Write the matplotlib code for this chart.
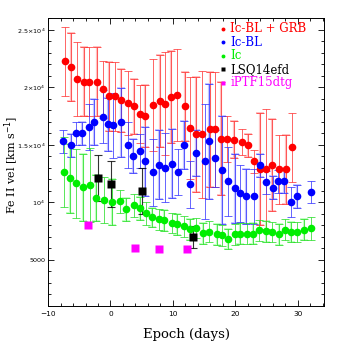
import numpy as np
import matplotlib
matplotlib.use("Agg")
import matplotlib.pyplot as plt
from matplotlib.ticker import FixedLocator, FixedFormatter, MultipleLocator

# Ic-BL + GRB
grb_epoch = [-7.3, -6.35, -5.4, -4.27, -3.47, -2.08, -1.23, -0.27, 0.8, 1.76, 2.83, 3.84, 4.75, 5.55,
             6.77, 7.95, 8.75, 9.7, 10.6, 11.9, 12.8, 13.7, 14.6, 15.9, 16.8, 17.65, 18.7, 19.7,
             21.07, 22.03, 22.93, 23.9, 24.85, 25.87, 27.0, 28.05, 29.07]
grb_vel = [22260, 21740, 20720, 20500, 20500, 20500, 19830, 19220, 19240, 18870, 18630, 18350, 17710, 17500,
           18480, 18810, 18600, 19190, 19320, 18360, 16450, 15910, 15910, 16360, 16360, 15540, 15540, 15460,
           15250, 14960, 13590, 12900, 12900, 13220, 12880, 12880, 14810]
grb_err = [3000, 2950, 3200, 3000, 3000, 3000, 2500, 3000, 3000, 2750, 2800, 2400, 2500, 2700,
           4000, 4000, 4500, 4000, 4000, 3000, 4450, 5000, 5500, 5000, 5000, 4900, 2000, 1600,
           1100, 1000, 1000, 4900, 5200, 4000, 3000, 3000, 3000]

# Ic-BL
bl_epoch = [-7.57, -6.4, -5.5, -4.64, -3.36, -2.56, -1.23, -0.43, 0.43, 1.76, 2.77, 3.57, 4.75, 5.6,
            6.75, 7.77, 8.8, 9.85, 10.85, 11.8, 12.8, 13.65, 15.17, 15.82, 16.78, 17.9, 18.83, 19.9,
            20.75, 21.68, 22.93, 23.95, 24.9, 26.08, 26.87, 27.85, 28.88, 29.87, 32.07]
bl_vel = [15330, 14980, 16000, 16000, 16520, 16980, 17450, 16810, 16700, 16980, 14980, 14030, 14460, 13590,
          12620, 13260, 13030, 13380, 12620, 14970, 11560, 14300, 13590, 15300, 13830, 12790, 11830, 11230,
          10780, 10550, 10550, 13240, 11740, 11290, 11830, 11830, 10060, 10550, 10900]
bl_err = [1000, 1000, 1000, 1000, 2000, 2000, 2300, 2300, 2800, 3000, 2000, 1500, 1500, 3000,
          2900, 3000, 3000, 3000, 2000, 2100, 2000, 2000, 5000, 5000, 2500, 4700, 3000, 3000,
          2500, 2400, 2400, 1000, 1000, 1000, 1000, 1000, 1300, 1000, 950]

# Ic
ic_epoch = [-7.47, -6.51, -5.49, -4.43, -3.31, -2.35, -1.0, 0.27, 1.6, 2.5, 3.79, 4.75, 5.7, 6.67,
            7.84, 8.64, 9.8, 10.72, 11.79, 12.8, 13.68, 14.85, 15.8, 17.0, 17.92, 18.83, 19.87, 20.8,
            21.92, 22.83, 23.79, 24.9, 25.87, 27.04, 27.89, 28.85, 29.81, 31.04, 32.05]
ic_vel = [12640, 12090, 11680, 11300, 11540, 10350, 10200, 10060, 10090, 9390, 9740, 9510, 9070, 8700,
          8520, 8460, 8210, 8090, 7930, 7650, 7770, 7300, 7450, 7220, 7130, 6810, 7220, 7280,
          7280, 7280, 7570, 7480, 7420, 7220, 7630, 7450, 7420, 7630, 7740]
ic_err = [3050, 3000, 3000, 2900, 3200, 2000, 2000, 2000, 1000, 1000, 1000, 1000, 1000, 850,
          900, 900, 900, 900, 900, 900, 900, 900, 900, 900, 900, 900, 900, 900,
          900, 900, 900, 900, 900, 900, 900, 850, 900, 900, 1000]

# LSQ14efd
lsq_epoch = [-1.97, 0.05, 5.12, 13.17]
lsq_vel = [12150, 11590, 10980, 6960]
lsq_err = [2000, 2000, 2000, 950]

# iPTF15dtg
ptf_epoch = [-3.68, 4.0, 7.84, 12.27]
ptf_vel = [8000, 6060, 5970, 5970]

ytick_vals = [5000, 10000, 15000, 20000, 25000]
ytick_text = ["5000", r"$10^4$", r"$1.5\!\times\!10^4$", r"$2\!\times\!10^4$", r"$2.5\!\times\!10^4$"]

fig = plt.figure(figsize=(3.43, 3.43), dpi=100)
ax = fig.add_axes([0.140, 0.108, 0.805, 0.840])


def draw_group(x, y, e, col, pale):
    for i in range(len(x)):
        if i % 2 == 1:
            ax.errorbar(x[i], y[i], yerr=e[i], fmt="none", ecolor=pale, elinewidth=1.6,
                        capsize=3, capthick=1.4, zorder=1)
        ax.errorbar(x[i], y[i], yerr=e[i], fmt="none", ecolor=col, elinewidth=0.7,
                    capsize=3, capthick=0.7, alpha=0.75, zorder=2)


draw_group(grb_epoch, grb_vel, grb_err, "#ff3030", "#ffc0c0")
draw_group(bl_epoch, bl_vel, bl_err, "#3030ff", "#c4c4ff")
draw_group(ic_epoch, ic_vel, ic_err, "#22dd22", "#c0ffc0")
ax.errorbar(lsq_epoch, lsq_vel, yerr=lsq_err, fmt="none", ecolor="black", elinewidth=0.8,
            capsize=3, capthick=0.8, alpha=0.8, zorder=2)

ax.plot(grb_epoch, grb_vel, "o", color="#ff0000", ms=5.5, mec="none", zorder=3)
ax.plot(bl_epoch, bl_vel, "o", color="#0000ff", ms=5.5, mec="none", zorder=3)
ax.plot(ic_epoch, ic_vel, "o", color="#00ee00", ms=5.5, mec="none", zorder=3)
ax.plot(lsq_epoch, lsq_vel, "s", color="black", ms=5.2, mec="none", zorder=4)
ax.plot(ptf_epoch, ptf_vel, "s", color="#ff00ff", ms=5.2, mec="none", zorder=4)

ax.set_xlim(-10, 34.2)
ax.set_ylim(1000, 26050)
ax.xaxis.set_major_locator(FixedLocator([-10, 0, 10, 20, 30]))
ax.xaxis.set_minor_locator(MultipleLocator(2))
ax.yaxis.set_major_locator(FixedLocator(ytick_vals))
ax.yaxis.set_major_formatter(FixedFormatter(ytick_text))
ax.yaxis.set_minor_locator(MultipleLocator(1000))
ax.tick_params(which="both", direction="in", top=True, right=True, labelsize=5.3, width=0.6)
ax.tick_params(axis="y", labelsize=4.6, pad=2)
ax.tick_params(which="major", length=4.5)
ax.tick_params(which="minor", length=2.5)
for s in ax.spines.values():
    s.set_linewidth(0.7)

ax.set_xlabel("Epoch (days)", family="DejaVu Serif", fontsize=9.5)
ax.xaxis.set_label_coords(0.5, -0.075)
fig.text(0.008, 0.52, r"Fe II vel [km s$^{-1}$]", family="DejaVu Serif", fontsize=8.0,
         rotation=90, ha="left", va="center")

legend_items = [("Ic-BL + GRB", "#ff0000"), ("Ic-BL", "#0000ff"), ("Ic", "#00ee00"),
                ("LSQ14efd", "black"), ("iPTF15dtg", "#ff00ff")]
for k, (lab, c) in enumerate(legend_items):
    yy = 0.962 - k * 0.047
    mk = "s" if k >= 3 else "o"
    ax.plot([0.635], [yy], mk, color=c, ms=2.8, mec="none", transform=ax.transAxes)
    ax.text(0.66, yy, lab, color=c, fontsize=8.5, family="DejaVu Serif",
            va="center", ha="left", transform=ax.transAxes)

fig.savefig("out.png", dpi=100)
